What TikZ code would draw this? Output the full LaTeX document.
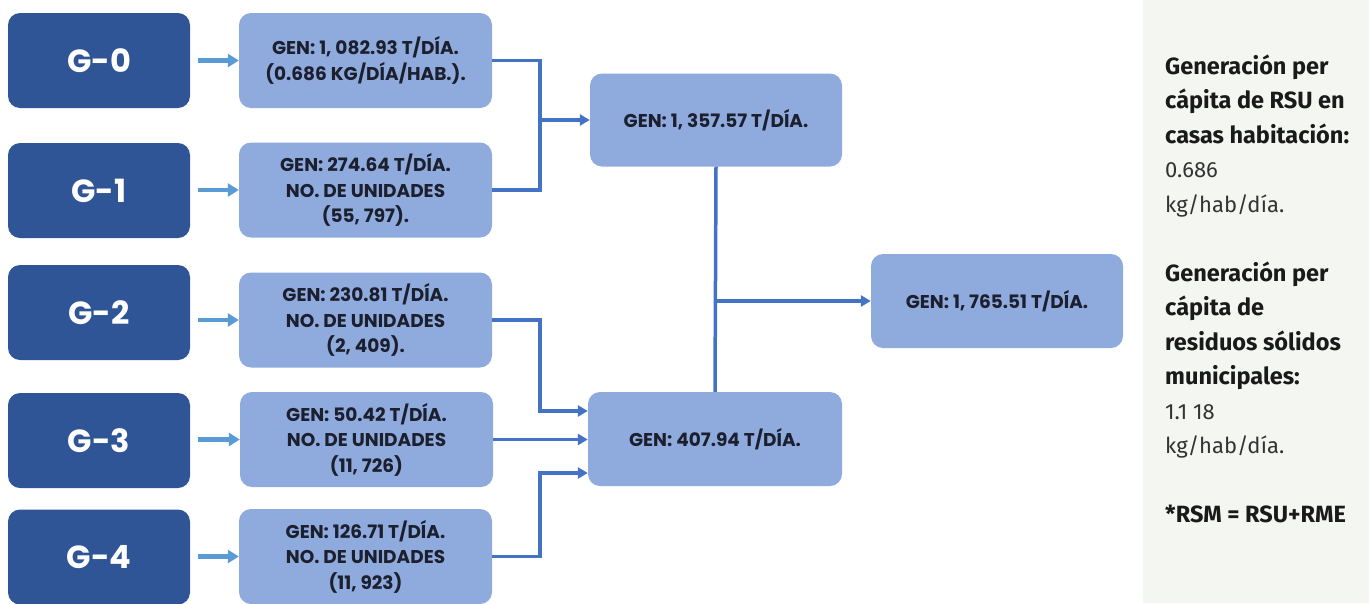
\documentclass[tikz,border=0pt]{standalone}
\usepackage{fontspec}
\setmainfont{Fira Sans}
\newfontfamily\boxfont{Poppins}
\usetikzlibrary{arrows.meta}
\definecolor{darkblue}{HTML}{2F5597}
\definecolor{lightblue}{HTML}{8FAADC}
\definecolor{arrowblue}{HTML}{5B9BD5}
\definecolor{linkblue}{HTML}{4472C4}
\definecolor{panelbg}{HTML}{F3F6F1}
\definecolor{txtdark}{HTML}{1B1F2E}
\definecolor{paneltxt}{HTML}{1A1A1A}
\definecolor{panelreg}{HTML}{333333}
\begin{document}
\begin{tikzpicture}[x=1pt,y=-1pt,
 gbox/.style={fill=darkblue, rounded corners=12pt, minimum width=182pt, minimum height=95pt, inner sep=0pt, text=white, font=\boxfont\bfseries\fontsize{32}{32}\selectfont},
 lbox/.style={fill=lightblue, rounded corners=12pt, minimum width=253pt, minimum height=95pt, inner sep=0pt, align=center, text=txtdark, font=\boxfont\bfseries\fontsize{18.5}{25.5}\selectfont},
 feed/.style={arrowblue, line width=4.5pt, -{Triangle[length=11pt,width=13pt]}},
 link/.style={linkblue, line width=3.5pt, -{Triangle[length=10pt,width=11pt]}},
 plain/.style={linkblue, line width=3.5pt},
 pb/.style={anchor=base west, inner sep=0pt, text=paneltxt, font=\bfseries\fontsize{23.5}{23.5}\selectfont},
 pr/.style={anchor=base west, inner sep=0pt, text=panelreg, font=\fontsize{22}{22}\selectfont}
]
\useasboundingbox (0,0) rectangle (1369,603);
\fill[panelbg] (1143,0) rectangle (1369,603);

% left dark boxes
\node[gbox] (G0) at (99,60.5) {G-0};
\node[gbox] (G1) at (99,190.5) {G-1};
\node[gbox] (G2) at (99,312.5) {G-2};
\node[gbox] (G3) at (99,440.5) {G-3};
\node[gbox] (G4) at (99,557) {G-4};

% light boxes
\node[lbox] (L0) at (365.5,60.5) {GEN: 1, 082.93 T/DÍA.\\(0.686 KG/DÍA/HAB.).};
\node[lbox] (L1) at (365.5,190) {GEN: 274.64 T/DÍA.\\NO. DE UNIDADES\\(55, 797).};
\node[lbox] (L2) at (365.5,320) {GEN: 230.81 T/DÍA.\\NO. DE UNIDADES\\(2, 409).};
\node[lbox] (L3) at (366.5,439.5) {GEN: 50.42 T/DÍA.\\NO. DE UNIDADES\\(11, 726)};
\node[lbox] (L4) at (365.5,556.5) {GEN: 126.71 T/DÍA.\\NO. DE UNIDADES\\(11, 923)};

% aggregate boxes
\node[lbox, minimum width=252pt, minimum height=93pt] (A) at (716,120) {GEN: 1, 357.57 T/DÍA.};
\node[lbox, minimum width=254pt, minimum height=94pt] (B) at (715,439) {GEN: 407.94 T/DÍA.};
\node[lbox, minimum width=252pt, minimum height=94pt] (C) at (997,301) {GEN: 1, 765.51 T/DÍA.};

% feed arrows
\foreach \i in {0,...,4}{
  \draw[feed] ([xshift=8pt]G\i.east |- L\i.west) -- (L\i.west);
}

% top merge
\coordinate (jA) at ([xshift=-50pt]A.west);
\draw[plain] (L0.east) -| (jA);
\draw[plain] (L1.east) -| (jA);
\draw[link] (jA) -- (A.west);

% bottom merge
\coordinate (b2) at ([yshift=28pt]B.west);
\coordinate (b4) at ([yshift=-34pt]B.west);
\coordinate (jB2) at ([xshift=-48pt]b2);
\coordinate (jB4) at ([xshift=-48pt]b4);
\draw[link] (L2.east) -| (jB2) -- (b2);
\draw[link] (L3.east) -- (L3.east -| B.west);
\draw[link] (L4.east) -| (jB4) -- (b4);

% total
\draw[plain] (A.south) -- (B.north);
\coordinate (jC) at (A.south |- C.west);
\draw[link] (jC) -- (C.west);

% side panel
\node[pb] (p1) at (1165,74) {Generación per};
\node[pb] (p2) at (1165,108.5) {cápita de RSU en};
\node[pb] (p3) at (1165,143) {casas habitación:};
\node[pr] (p4) at (1165,177.5) {0.686};
\node[pr] (p5) at (1165,212) {kg/hab/día.};
\node[pb] (p6) at (1165,281) {Generación per};
\node[pb] (p7) at (1165,315.5) {cápita de};
\node[pb] (p8) at (1165,350) {residuos sólidos};
\node[pb] (p9) at (1165,384.5) {municipales:};
\node[pr] (p10) at (1165,419) {1.1 18};
\node[pr] (p11) at (1165,453.5) {kg/hab/día.};
\node[pb] (p12) at (1165,522.5) {*RSM = RSU+RME};
\end{tikzpicture}
\end{document}
